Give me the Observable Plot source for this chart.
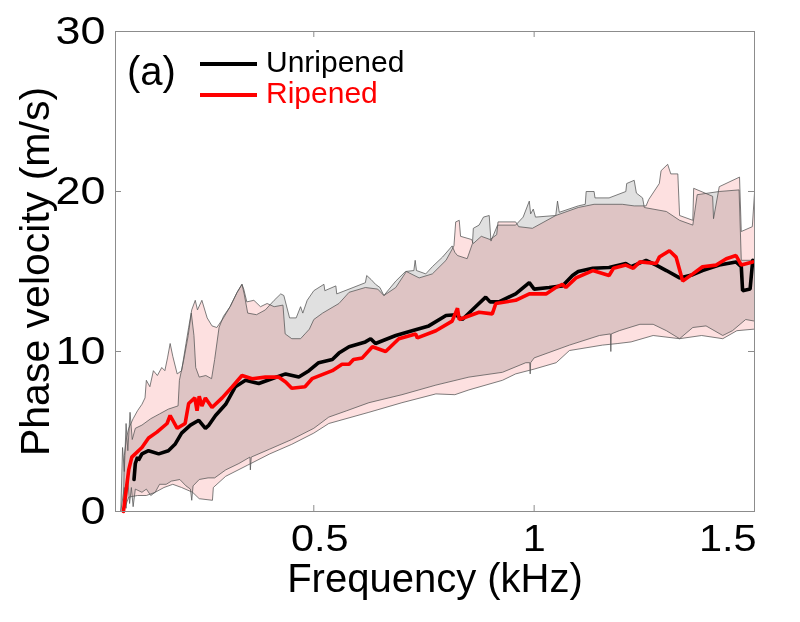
<!DOCTYPE html>
<html><head><meta charset="utf-8">
<script src="https://cdn.jsdelivr.net/npm/d3@7"></script>
<script src="https://cdn.jsdelivr.net/npm/@observablehq/plot@0.6"></script>
<style>body{margin:0;background:#fff}</style>
</head><body><div id="chart"></div>
<script>
// ---- data: [frequency (kHz), phase velocity (m/s)] ----
const unripenedMean = [[0.092,2.0],[0.095,3.0],[0.1,3.4],[0.102,3.2],[0.11,3.6],[0.125,3.8],[0.148,3.6],[0.17,3.8],[0.185,4.2],[0.2,4.9],[0.22,5.4],[0.239,5.7],[0.254,5.2],[0.262,5.4],[0.277,6.0],[0.3,6.7],[0.322,7.8],[0.345,8.2],[0.375,8.0],[0.405,8.3],[0.436,8.6],[0.466,8.4],[0.489,8.8],[0.511,9.3],[0.542,9.5],[0.557,9.9],[0.58,10.3],[0.617,10.6],[0.629,10.8],[0.64,10.5],[0.686,11.0],[0.723,11.3],[0.761,11.6],[0.8,12.25],[0.822,12.3],[0.837,12.0],[0.867,12.8],[0.89,13.4],[0.9,13.1],[0.92,13.1],[0.958,13.6],[0.989,14.3],[1.0,13.9],[1.034,14.0],[1.064,14.1],[1.087,14.75],[1.1,15.0],[1.133,15.2],[1.17,15.25],[1.208,15.5],[1.22,15.3],[1.254,15.7],[1.277,15.4],[1.3,15.06],[1.33,14.6],[1.36,14.8],[1.382,15.06],[1.42,15.4],[1.458,15.6],[1.47,15.3],[1.473,13.8],[1.49,13.9],[1.496,15.7]];
const ripenedMean = [[0.068,0],[0.08,2.6],[0.087,3.4],[0.11,4.0],[0.125,4.6],[0.144,4.96],[0.167,5.5],[0.174,6.0],[0.19,5.2],[0.208,5.5],[0.216,6.75],[0.23,7.1],[0.235,6.3],[0.24,7.2],[0.246,6.6],[0.254,7.1],[0.269,6.5],[0.292,7.1],[0.315,7.8],[0.337,8.5],[0.36,8.3],[0.39,8.4],[0.42,8.4],[0.436,8.1],[0.45,7.7],[0.48,7.8],[0.496,8.3],[0.542,8.8],[0.564,9.2],[0.58,9.2],[0.59,9.5],[0.61,9.6],[0.633,10.3],[0.663,10.0],[0.693,10.8],[0.731,11.1],[0.735,10.85],[0.777,11.3],[0.814,11.9],[0.826,12.7],[0.83,12.0],[0.875,12.45],[0.905,12.35],[0.913,13.0],[0.958,13.2],[0.989,13.6],[1.027,13.6],[1.049,14.0],[1.064,14.2],[1.072,14.0],[1.095,14.6],[1.133,15.06],[1.17,14.75],[1.18,15.2],[1.208,15.4],[1.225,15.2],[1.24,15.6],[1.277,15.5],[1.284,15.9],[1.307,16.3],[1.322,15.9],[1.337,14.4],[1.36,14.85],[1.382,15.3],[1.413,15.4],[1.436,15.8],[1.458,16.0],[1.47,15.4],[1.496,15.6]];
const unripenedUpper = [[0.062,0],[0.066,4.0],[0.07,2.5],[0.074,5.5],[0.078,3.8],[0.083,6.2],[0.088,4.5],[0.095,5.2],[0.11,5.4],[0.13,5.8],[0.15,6.1],[0.17,6.4],[0.192,6.6],[0.195,8.2],[0.205,9.5],[0.215,11.0],[0.222,12.4],[0.228,11.0],[0.232,9.0],[0.24,8.4],[0.255,8.5],[0.268,8.3],[0.275,9.5],[0.285,11.5],[0.295,12.2],[0.31,12.8],[0.326,13.7],[0.337,14.2],[0.342,13.6],[0.35,12.4],[0.37,12.3],[0.39,12.6],[0.4,12.9],[0.41,13.2],[0.425,13.6],[0.432,13.5],[0.445,12.1],[0.46,12.1],[0.47,12.8],[0.475,12.4],[0.485,13.2],[0.5,13.8],[0.523,14.2],[0.525,13.8],[0.55,14.1],[0.552,13.6],[0.58,13.9],[0.617,14.3],[0.62,14.75],[0.63,14.5],[0.64,14.2],[0.65,14.0],[0.659,13.5],[0.686,14.4],[0.708,15.0],[0.727,15.06],[0.73,15.7],[0.733,15.06],[0.754,14.85],[0.769,15.3],[0.792,15.9],[0.814,16.6],[0.82,16.2],[0.826,16.0],[0.848,15.8],[0.86,16.75],[0.862,17.7],[0.875,17.9],[0.885,18.4],[0.898,18.5],[0.902,16.9],[0.917,17.9],[0.958,17.9],[0.975,18.4],[0.989,19.4],[0.992,18.6],[0.998,18.9],[1.003,18.4],[1.049,18.5],[1.053,19.4],[1.057,18.7],[1.1,19.1],[1.116,19.2],[1.118,20.0],[1.136,20.0],[1.138,19.6],[1.17,19.6],[1.208,20.0],[1.21,20.5],[1.227,20.7],[1.232,19.9],[1.246,19.6],[1.25,19.0],[1.3,18.75],[1.33,18.2],[1.36,17.9],[1.37,19.8],[1.42,20.0],[1.465,20.1],[1.47,15.7],[1.5,15.7]];
const unripenedLower = [[0.062,0],[0.07,1.5],[0.074,0.2],[0.078,2.0],[0.082,0.5],[0.086,1.5],[0.09,0.3],[0.095,1.4],[0.11,1.2],[0.12,1.4],[0.13,1.0],[0.14,1.2],[0.15,1.7],[0.165,1.7],[0.177,1.9],[0.196,2.0],[0.21,1.6],[0.22,1.4],[0.223,0.7],[0.226,1.6],[0.24,2.0],[0.26,2.1],[0.275,2.1],[0.3,2.6],[0.33,3.0],[0.355,3.4],[0.356,2.6],[0.358,3.4],[0.4,3.9],[0.45,4.5],[0.5,5.2],[0.534,5.9],[0.575,6.3],[0.625,6.8],[0.7,7.3],[0.777,7.9],[0.852,8.4],[0.928,8.7],[0.981,9.3],[0.99,9.3],[0.991,8.6],[0.992,9.3],[1.0,9.6],[1.08,10.4],[1.148,11.0],[1.173,11.1],[1.174,10.0],[1.175,11.1],[1.193,11.3],[1.24,11.7],[1.27,11.7],[1.3,11.3],[1.33,10.8],[1.36,11.5],[1.39,11.6],[1.428,11.0],[1.45,11.3],[1.48,12.0],[1.5,11.9]];
const ripenedUpper = [[0.068,0],[0.07,3.5],[0.075,4.6],[0.08,5.2],[0.09,5.8],[0.1,6.3],[0.11,6.7],[0.117,7.1],[0.12,8.2],[0.128,7.8],[0.136,8.8],[0.145,8.5],[0.155,9.0],[0.162,8.8],[0.168,9.6],[0.174,10.5],[0.18,9.7],[0.19,8.6],[0.2,8.8],[0.21,10.5],[0.216,11.5],[0.223,12.6],[0.231,13.2],[0.236,12.6],[0.246,13.2],[0.258,12.1],[0.269,11.6],[0.28,11.5],[0.295,12.1],[0.31,12.8],[0.326,13.7],[0.337,14.2],[0.341,13.9],[0.348,13.1],[0.364,13.2],[0.379,12.8],[0.394,13.0],[0.41,12.8],[0.43,12.9],[0.435,11.1],[0.45,10.8],[0.47,10.8],[0.48,11.1],[0.49,11.4],[0.5,12.0],[0.52,12.4],[0.557,13.0],[0.58,13.7],[0.617,14.0],[0.645,13.9],[0.659,13.5],[0.686,14.0],[0.71,15.0],[0.739,14.6],[0.769,14.85],[0.8,15.7],[0.818,16.6],[0.822,18.1],[0.83,18.2],[0.833,17.2],[0.858,17.0],[0.862,16.75],[0.88,17.2],[0.9,17.0],[0.915,17.3],[0.918,18.1],[0.958,18.1],[0.965,17.8],[0.996,17.7],[1.049,18.5],[1.1,19.0],[1.136,19.2],[1.2,19.2],[1.227,19.1],[1.254,19.1],[1.26,19.5],[1.284,20.5],[1.288,21.3],[1.303,21.7],[1.31,21.1],[1.326,21.1],[1.33,18.5],[1.36,18.2],[1.362,20.2],[1.405,19.7],[1.407,18.3],[1.42,20.3],[1.466,20.9],[1.47,17.5],[1.495,17.8],[1.5,19.9]];
const ripenedLower = [[0.068,0],[0.08,0.9],[0.1,1.0],[0.12,1.0],[0.14,1.2],[0.16,1.5],[0.18,1.7],[0.2,1.5],[0.225,1.2],[0.24,0.8],[0.27,0.7],[0.272,1.5],[0.3,2.2],[0.35,2.9],[0.4,3.6],[0.45,4.2],[0.5,4.9],[0.534,5.5],[0.625,6.2],[0.7,6.8],[0.777,7.35],[0.82,7.3],[0.852,7.6],[0.928,8.2],[0.958,8.6],[1.0,8.9],[1.05,9.3],[1.08,10.06],[1.155,10.4],[1.19,10.5],[1.22,10.6],[1.27,11.0],[1.33,10.8],[1.38,11.0],[1.428,10.8],[1.46,11.3],[1.5,11.4]];
const xTicks = [0.5, 1, 1.5];
const yTicks = [0, 10, 20, 30];
const seriesNames = ["Unripened", "Ripened"];
const seriesColors = ["#000000", "#ff0000"];
const panelLabel = "(a)";
const xTitle = "Frequency (kHz)";
const yTitle = "Phase velocity (m/s)";

// ---- helpers ----
const pts = a => a.map(([f, v]) => ({f, v}));
const polygon = (up, lo) => pts([...up, ...lo.slice().reverse()]);

const W = 800, H = 622, mL = 115, mR = 46, mT = 31, mB = 111;
const fw = W - mL - mR, fh = H - mT - mB;
const font = "'Liberation Sans', Arial, Helvetica, sans-serif";
const axisGray = "#8c8c8c";

function legendMark(index, scales, values, dims) {
  const g = d3.create("svg:g").attr("font-family", font).attr("text-anchor", "start");
  const x0 = dims.marginLeft, y0 = dims.marginTop;
  g.append("text").attr("x", x0 + 12).attr("y", y0 + 54).attr("font-size", 40).attr("fill", "#000").text(panelLabel);
  seriesNames.forEach((name, i) => {
    const y = y0 + 33 + i * 31;
    g.append("line").attr("x1", x0 + 85).attr("x2", x0 + 142).attr("y1", y).attr("y2", y)
      .attr("stroke", seriesColors[i]).attr("stroke-width", 4);
    g.append("text").attr("x", x0 + 151).attr("y", y + 8).attr("font-size", 30)
      .attr("fill", seriesColors[i]).text(name);
  });
  return g.node();
}

const tickStyle = {tickSize: 0, fill: "#000", tickFormat: d => String(d), label: null};

const chart = Plot.plot({
  width: W, height: H,
  marginLeft: mL, marginRight: mR, marginTop: mT, marginBottom: mB,
  x: {domain: [0.05, 1.5]},
  y: {domain: [0, 30]},
  style: {background: "white", fontFamily: font},
  marks: [
    Plot.line(polygon(unripenedUpper, unripenedLower), {x: "f", y: "v", fill: "#e0e0e0", stroke: "none", mixBlendMode: "multiply"}),
    Plot.line(polygon(ripenedUpper, ripenedLower), {x: "f", y: "v", fill: "#fde0e0", stroke: "none", mixBlendMode: "multiply"}),
    ...[unripenedUpper, unripenedLower, ripenedUpper, ripenedLower].map(a =>
      Plot.line(pts(a), {x: "f", y: "v", stroke: "#555", strokeWidth: 0.9, strokeOpacity: 0.85})),
    Plot.line(pts(unripenedMean), {x: "f", y: "v", stroke: seriesColors[0], strokeWidth: 3.6, strokeLinejoin: "miter"}),
    Plot.line(pts(ripenedMean), {x: "f", y: "v", stroke: seriesColors[1], strokeWidth: 3.6, strokeLinejoin: "miter"}),
    Plot.frame({stroke: axisGray}),
    Plot.ruleX(xTicks, {stroke: axisGray, insetTop: fh - 6}),
    Plot.ruleX(xTicks, {stroke: axisGray, insetBottom: fh - 6}),
    Plot.ruleY(yTicks, {stroke: axisGray, insetRight: fw - 6}),
    Plot.ruleY(yTicks, {stroke: axisGray, insetLeft: fw - 6}),
    Plot.axisX([xTicks[0]], {...tickStyle, tickPadding: 14, fontSize: 36, dx: 6}),
    Plot.axisX([xTicks[1]], {...tickStyle, tickPadding: 14, fontSize: 36}),
    Plot.axisX([xTicks[2]], {...tickStyle, tickPadding: 14, fontSize: 36, textAnchor: "end", dx: 2}),
    Plot.axisY(yTicks, {...tickStyle, tickPadding: 10, fontSize: 39}),
    Plot.text([xTitle], {frameAnchor: "bottom", dy: 68, fontSize: 40, fill: "#000", lineAnchor: "middle", textAnchor: "middle"}),
    Plot.text([yTitle], {frameAnchor: "left", dx: -80, rotate: -90, fontSize: 41, fill: "#000", lineAnchor: "middle", textAnchor: "middle"}),
    legendMark
  ]
});
document.getElementById("chart").append(chart);
// tick labels in the reference are horizontally wider than Arial
chart.querySelectorAll("g[aria-label$='axis tick label'] text").forEach(t => {
  const L = t.getComputedTextLength();
  if (L > 0) { t.setAttribute("textLength", (L * 1.15).toFixed(1)); t.setAttribute("lengthAdjust", "spacingAndGlyphs"); }
});
</script>
</body></html>
